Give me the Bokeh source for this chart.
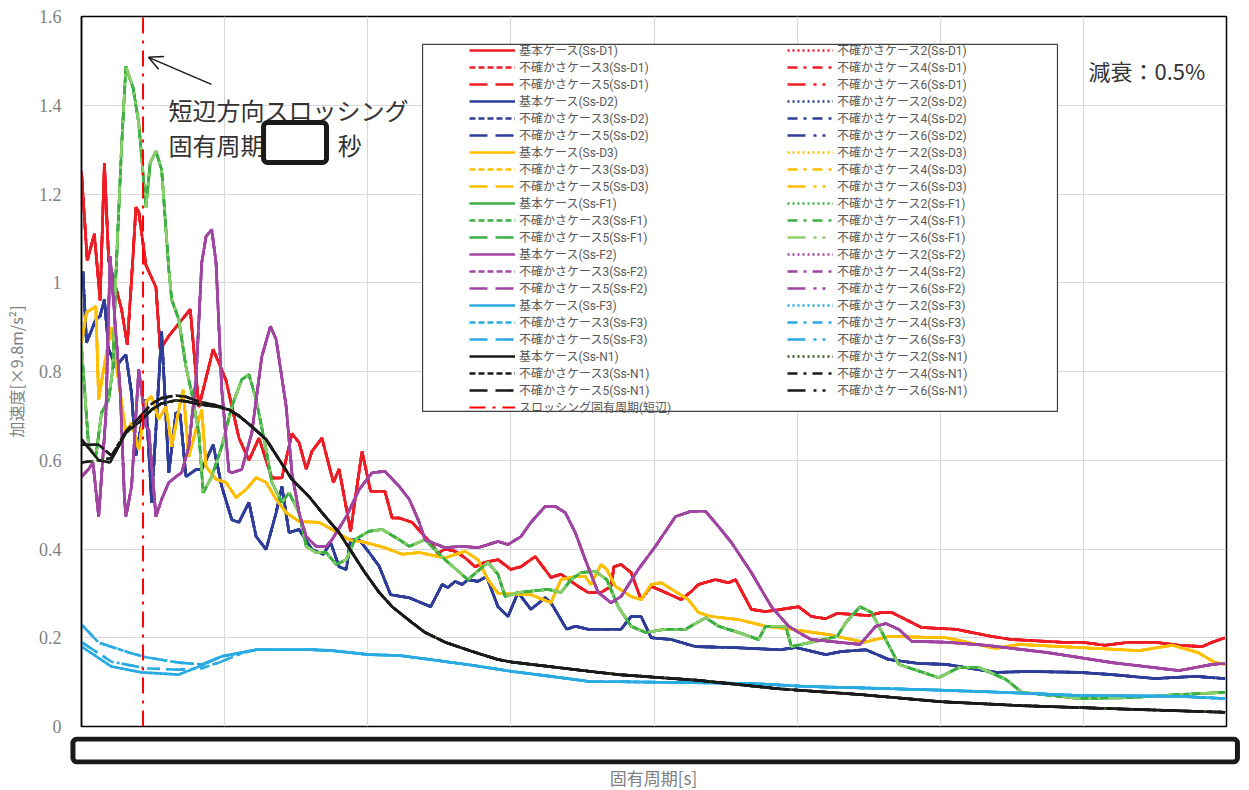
from bokeh.plotting import figure
from bokeh.models import (Range1d, FixedTicker, Legend, LegendItem, BoxAnnotation,
                          Label, Arrow, OpenHead)
from bokeh.embed import file_html
from bokeh.resources import INLINE

# ---------------- data (x: period in grid units, labels redacted; y: acceleration [x9.8 m/s2]) -------------
GROUPS = ["Ss-D1", "Ss-D2", "Ss-D3", "Ss-F1", "Ss-F2", "Ss-F3", "Ss-N1"]
CASES = ["基本ケース", "不確かさケース2", "不確かさケース3", "不確かさケース4",
         "不確かさケース5", "不確かさケース6"]

SS_D1 = [(0.00, 1.25), (0.04, 1.05), (0.09, 1.11), (0.13, 0.96), (0.16, 1.27), (0.19, 1.05), (0.28, 0.94),
         (0.32, 0.86), (0.36, 1.06), (0.38, 1.17), (0.40, 1.16), (0.45, 1.04), (0.52, 0.99), (0.55, 0.85),
         (0.61, 0.88), (0.76, 0.94), (0.82, 0.72), (0.92, 0.85), (1.01, 0.78), (1.10, 0.65), (1.17, 0.60),
         (1.24, 0.65), (1.33, 0.56), (1.40, 0.56), (1.47, 0.66), (1.52, 0.64), (1.57, 0.58), (1.61, 0.62),
         (1.68, 0.65), (1.76, 0.55), (1.80, 0.58), (1.88, 0.44), (1.96, 0.62), (2.02, 0.53), (2.08, 0.53),
         (2.12, 0.53), (2.17, 0.47), (2.22, 0.47), (2.31, 0.46), (2.45, 0.41), (2.49, 0.39), (2.54, 0.40),
         (2.61, 0.395), (2.68, 0.38), (2.75, 0.36), (2.82, 0.37), (2.91, 0.376), (3.00, 0.354), (3.07, 0.36),
         (3.17, 0.383), (3.28, 0.336), (3.35, 0.343), (3.47, 0.316), (3.54, 0.302), (3.63, 0.302),
         (3.70, 0.316), (3.72, 0.36), (3.77, 0.365), (3.84, 0.347), (3.91, 0.286), (3.98, 0.316),
         (4.08, 0.302), (4.19, 0.286), (4.26, 0.304), (4.31, 0.32), (4.43, 0.331), (4.52, 0.324),
         (4.57, 0.331), (4.68, 0.264), (4.78, 0.259), (4.89, 0.264), (5.01, 0.27), (5.10, 0.248),
         (5.20, 0.243), (5.28, 0.255), (5.50, 0.25), (5.59, 0.257), (5.66, 0.257), (5.76, 0.241),
         (5.87, 0.223), (6.11, 0.219), (6.36, 0.203), (6.50, 0.196), (6.85, 0.19), (6.99, 0.19),
         (7.15, 0.183), (7.32, 0.19), (7.50, 0.19), (7.67, 0.183), (7.83, 0.18), (7.90, 0.19), (7.99, 0.20)]

SS_D2 = [(0.00, 1.02), (0.01, 1.025), (0.035, 0.865), (0.10, 0.917), (0.13, 0.925), (0.16, 0.962),
         (0.19, 0.85), (0.24, 0.81), (0.28, 0.827), (0.31, 0.838), (0.35, 0.75), (0.38, 0.61), (0.45, 0.737),
         (0.49, 0.505), (0.56, 0.89), (0.61, 0.572), (0.66, 0.707), (0.69, 0.703), (0.73, 0.563),
         (0.80, 0.579), (0.84, 0.579), (0.92, 0.635), (0.98, 0.541), (1.05, 0.466), (1.10, 0.46),
         (1.17, 0.505), (1.22, 0.428), (1.29, 0.399), (1.36, 0.482), (1.40, 0.541), (1.45, 0.437),
         (1.52, 0.444), (1.61, 0.399), (1.69, 0.388), (1.74, 0.415), (1.80, 0.36), (1.85, 0.354),
         (1.88, 0.421), (1.94, 0.421), (2.01, 0.392), (2.08, 0.361), (2.16, 0.297), (2.29, 0.29),
         (2.44, 0.27), (2.52, 0.32), (2.56, 0.313), (2.61, 0.327), (2.66, 0.32), (2.70, 0.331),
         (2.77, 0.327), (2.83, 0.338), (2.91, 0.27), (2.98, 0.248), (3.05, 0.302), (3.14, 0.264),
         (3.24, 0.29), (3.28, 0.279), (3.39, 0.219), (3.45, 0.226), (3.54, 0.219), (3.77, 0.219),
         (3.84, 0.248), (3.91, 0.248), (3.98, 0.20), (4.12, 0.196), (4.29, 0.18), (4.54, 0.178),
         (4.88, 0.173), (4.99, 0.178), (5.20, 0.162), (5.31, 0.169), (5.48, 0.173), (5.64, 0.151),
         (5.85, 0.142), (6.04, 0.14), (6.39, 0.122), (6.62, 0.124), (6.97, 0.122), (7.20, 0.117),
         (7.50, 0.108), (7.78, 0.113), (7.99, 0.108)]

SS_D3 = [(0.00, 0.865), (0.035, 0.933), (0.10, 0.947), (0.12, 0.737), (0.17, 0.834), (0.21, 0.90),
         (0.245, 0.81), (0.31, 0.662), (0.35, 0.685), (0.40, 0.624), (0.45, 0.732), (0.49, 0.744),
         (0.54, 0.692), (0.59, 0.721), (0.63, 0.631), (0.68, 0.714), (0.71, 0.759), (0.75, 0.608),
         (0.80, 0.669), (0.84, 0.714), (0.87, 0.586), (0.94, 0.557), (1.01, 0.55), (1.08, 0.516),
         (1.15, 0.534), (1.22, 0.561), (1.29, 0.55), (1.36, 0.512), (1.43, 0.482), (1.52, 0.462),
         (1.66, 0.46), (1.75, 0.444), (1.87, 0.421), (1.98, 0.415), (2.12, 0.403), (2.24, 0.388),
         (2.36, 0.392), (2.54, 0.38), (2.68, 0.395), (2.77, 0.376), (2.84, 0.331), (2.91, 0.30),
         (3.14, 0.297), (3.28, 0.279), (3.35, 0.331), (3.45, 0.338), (3.52, 0.338), (3.56, 0.32),
         (3.63, 0.365), (3.67, 0.354), (3.73, 0.316), (3.84, 0.293), (3.91, 0.286), (3.98, 0.32),
         (4.05, 0.324), (4.15, 0.304), (4.24, 0.286), (4.31, 0.257), (4.40, 0.248), (4.59, 0.241),
         (4.78, 0.226), (4.96, 0.219), (5.22, 0.207), (5.47, 0.19), (5.64, 0.203), (6.04, 0.20),
         (6.39, 0.176), (6.55, 0.185), (6.97, 0.178), (7.39, 0.171), (7.62, 0.183), (7.80, 0.167),
         (7.92, 0.144), (7.99, 0.14)]

SS_F1 = [(0.00, 0.856), (0.05, 0.631), (0.10, 0.608), (0.14, 0.707), (0.19, 0.737), (0.22, 0.81),
         (0.24, 1.014), (0.28, 1.307), (0.31, 1.487), (0.34, 1.458), (0.36, 1.44), (0.40, 1.36),
         (0.45, 1.17), (0.48, 1.27), (0.52, 1.296), (0.56, 1.255), (0.61, 1.03), (0.63, 0.962),
         (0.68, 0.917), (0.73, 0.81), (0.77, 0.752), (0.82, 0.662), (0.85, 0.527), (0.91, 0.563),
         (0.98, 0.631), (1.05, 0.721), (1.12, 0.782), (1.17, 0.793), (1.22, 0.737), (1.29, 0.624),
         (1.33, 0.55), (1.40, 0.505), (1.45, 0.527), (1.52, 0.482), (1.57, 0.406), (1.64, 0.392),
         (1.71, 0.392), (1.78, 0.365), (1.85, 0.376), (1.91, 0.421), (2.01, 0.44), (2.10, 0.444),
         (2.22, 0.421), (2.29, 0.406), (2.40, 0.421), (2.54, 0.376), (2.70, 0.331), (2.84, 0.37),
         (2.91, 0.343), (2.96, 0.293), (3.05, 0.302), (3.26, 0.309), (3.35, 0.302), (3.42, 0.331),
         (3.49, 0.347), (3.59, 0.35), (3.67, 0.331), (3.75, 0.27), (3.84, 0.226), (3.94, 0.212),
         (4.08, 0.219), (4.22, 0.219), (4.36, 0.245), (4.45, 0.226), (4.59, 0.212), (4.73, 0.196),
         (4.78, 0.226), (4.92, 0.226), (4.96, 0.18), (5.10, 0.19), (5.28, 0.203), (5.34, 0.234),
         (5.44, 0.27), (5.52, 0.257), (5.71, 0.14), (5.99, 0.11), (6.13, 0.133), (6.27, 0.133),
         (6.46, 0.106), (6.57, 0.077), (6.97, 0.063), (7.32, 0.065), (7.67, 0.072), (7.99, 0.077)]

SS_F2 = [(0.00, 0.563), (0.05, 0.58), (0.08, 0.595), (0.12, 0.473), (0.17, 0.70), (0.20, 1.06),
         (0.24, 0.888), (0.27, 0.759), (0.30, 0.516), (0.31, 0.473), (0.35, 0.541), (0.40, 0.805),
         (0.45, 0.676), (0.47, 0.669), (0.52, 0.473), (0.56, 0.512), (0.61, 0.55), (0.66, 0.563),
         (0.70, 0.572), (0.75, 0.631), (0.80, 0.782), (0.84, 1.045), (0.87, 1.104), (0.91, 1.12),
         (0.94, 1.045), (0.98, 0.759), (1.03, 0.575), (1.05, 0.572), (1.12, 0.579), (1.19, 0.662),
         (1.26, 0.834), (1.32, 0.902), (1.36, 0.872), (1.43, 0.721), (1.47, 0.572), (1.52, 0.482),
         (1.57, 0.428), (1.64, 0.406), (1.71, 0.406), (1.75, 0.421), (1.85, 0.473), (1.94, 0.534),
         (2.03, 0.572), (2.12, 0.575), (2.22, 0.541), (2.29, 0.512), (2.36, 0.46), (2.40, 0.421),
         (2.54, 0.403), (2.66, 0.406), (2.77, 0.403), (2.91, 0.417), (2.98, 0.41), (3.07, 0.428),
         (3.14, 0.46), (3.24, 0.496), (3.31, 0.496), (3.38, 0.482), (3.45, 0.437), (3.52, 0.376),
         (3.61, 0.302), (3.70, 0.279), (3.77, 0.293), (3.89, 0.354), (4.01, 0.406), (4.15, 0.473),
         (4.26, 0.485), (4.36, 0.485), (4.45, 0.451), (4.54, 0.415), (4.68, 0.347), (4.82, 0.27),
         (4.94, 0.226), (5.01, 0.212), (5.10, 0.196), (5.44, 0.185), (5.55, 0.226), (5.62, 0.232),
         (5.71, 0.219), (5.80, 0.192), (6.04, 0.19), (6.32, 0.183), (6.74, 0.167), (7.20, 0.144),
         (7.67, 0.126), (7.90, 0.14), (7.99, 0.142)]

SS_F3 = [(0.00, 0.18), (0.21, 0.135), (0.42, 0.122), (0.68, 0.117), (0.82, 0.135), (0.98, 0.158),
         (1.22, 0.173), (1.61, 0.173), (1.75, 0.171), (2.01, 0.162), (2.22, 0.16), (2.46, 0.15),
         (2.73, 0.138), (3.01, 0.124), (3.28, 0.113), (3.56, 0.101), (3.75, 0.101), (4.22, 0.099),
         (4.68, 0.097), (5.07, 0.09), (5.57, 0.086), (5.99, 0.082), (6.27, 0.079), (6.97, 0.07),
         (7.67, 0.068), (7.99, 0.063)]
SS_F3_UPPER_HEAD = [(0.00, 0.23), (0.12, 0.189), (0.33, 0.167), (0.45, 0.156), (0.68, 0.144), (0.84, 0.14)]
SS_F3_MID_HEAD = [(0.00, 0.19), (0.21, 0.146), (0.45, 0.131), (0.68, 0.128), (0.84, 0.131), (0.96, 0.144),
                  (1.12, 0.165)]

SS_N1 = [(0.00, 0.647), (0.12, 0.60), (0.20, 0.595), (0.31, 0.662), (0.40, 0.685), (0.49, 0.714),
         (0.56, 0.728), (0.66, 0.735), (0.73, 0.733), (0.82, 0.726), (0.94, 0.721), (1.03, 0.714),
         (1.10, 0.70), (1.19, 0.676), (1.29, 0.647), (1.38, 0.602), (1.47, 0.557), (1.59, 0.518),
         (1.68, 0.482), (1.80, 0.437), (1.89, 0.392), (1.98, 0.347), (2.08, 0.302), (2.17, 0.27),
         (2.31, 0.234), (2.40, 0.212), (2.54, 0.19), (2.73, 0.169), (2.91, 0.151), (3.01, 0.145),
         (3.56, 0.124), (3.75, 0.117), (4.31, 0.104), (4.87, 0.085), (5.44, 0.072), (6.00, 0.056),
         (6.56, 0.047), (7.12, 0.041), (7.99, 0.032)]
SS_N1_LOW_HEAD = [(0.00, 0.595), (0.12, 0.60), (0.21, 0.605)]
SS_N1_HIGH_HEAD = [(0.00, 0.635), (0.12, 0.635), (0.21, 0.61), (0.31, 0.665), (0.40, 0.695), (0.49, 0.727),
                   (0.56, 0.74), (0.66, 0.746), (0.73, 0.743), (0.82, 0.732), (0.94, 0.724)]

SLOSH_X = [0.43, 0.43]
SLOSH_Y = [0.0, 1.6]

Y_TICKS = [0, 0.2, 0.4, 0.6, 0.8, 1.0, 1.2, 1.4, 1.6]
Y_TICK_LABELS = ["0", "0.2", "0.4", "0.6", "0.8", "1", "1.2", "1.4", "1.6"]
X_GRID = [0, 1, 2, 3, 4, 5, 6, 7, 8]


def with_head(head, base):
    last = head[-1][0]
    return head + [pt for pt in base if pt[0] > last]


BASE = {"Ss-D1": SS_D1, "Ss-D2": SS_D2, "Ss-D3": SS_D3, "Ss-F1": SS_F1,
        "Ss-F2": SS_F2, "Ss-F3": SS_F3, "Ss-N1": SS_N1}


def curve(group, case_idx):
    base = BASE[group]
    if group == "Ss-F3":
        if case_idx in (2, 4):
            return with_head(SS_F3_UPPER_HEAD, base)
        if case_idx in (3, 5):
            return with_head(SS_F3_MID_HEAD, base)
    if group == "Ss-N1":
        if case_idx in (1, 3):
            return with_head(SS_N1_LOW_HEAD, base)
        if case_idx in (2, 4):
            return with_head(SS_N1_HIGH_HEAD, base)
    return base


# ---------------- styles ----------------
COLORS = {"Ss-D1": "#ee1c24", "Ss-D2": "#2e3d98", "Ss-D3": "#ffbf00", "Ss-F1": "#3cb043",
          "Ss-F2": "#a045a2", "Ss-F3": "#29abe2", "Ss-N1": "#1a1a1a"}
DASHES = ["solid", "2 3", "6 3", "10 6 3 6", "18 8", "18 8 3 6 3 8"]
LW = 2.6
FONT = "Noto Sans CJK JP"
LEG_FONT = "Roboto, Noto Sans CJK JP"

p = figure(frame_width=1145, frame_height=710, min_border_left=75, min_border_right=13,
           min_border_top=16, min_border_bottom=10, output_backend="svg", toolbar_location=None,
           x_range=Range1d(0, 8), y_range=Range1d(0, 1.6), x_axis_location=None)
p.outline_line_color = "#000000"
p.outline_line_width = 1.5
p.background_fill_color = "white"
p.border_fill_color = "white"

p.xgrid.ticker = FixedTicker(ticks=X_GRID)
p.yaxis.ticker = FixedTicker(ticks=Y_TICKS)
p.yaxis.major_label_overrides = {t: l for t, l in zip(Y_TICKS, Y_TICK_LABELS)}
p.yaxis.axis_line_color = "#000000"
p.yaxis.axis_line_width = 1.5
p.yaxis.major_tick_line_color = None
p.yaxis.minor_tick_line_color = None
p.yaxis.major_label_text_font = "Liberation Serif"
p.yaxis.major_label_text_font_size = "18px"
p.yaxis.major_label_text_color = "#808080"
p.yaxis.major_label_standoff = 14
p.yaxis.axis_label = "加速度[×9.8m/s²]"
p.yaxis.axis_label_text_font = FONT
p.yaxis.axis_label_text_font_size = "16px"
p.yaxis.axis_label_text_font_style = "normal"
p.yaxis.axis_label_text_color = "#808080"
p.yaxis.axis_label_standoff = 8

p.xgrid.grid_line_color = "#d9d9d9"
p.ygrid.grid_line_color = "#d9d9d9"
p.xgrid.grid_line_width = 1.2
p.ygrid.grid_line_width = 1.2

left_items, right_items = [], []
for g in GROUPS:
    for ci, case in enumerate(CASES):
        pts = curve(g, ci)
        xs = [a for a, _ in pts]
        ys = [b for _, b in pts]
        color = COLORS[g]
        if g == "Ss-F1" and ci == 5:
            color = "#8ccf6a"
        if g == "Ss-N1" and ci == 1:
            color = "#385723"
        r = p.line(xs, ys, line_color=color, line_width=LW, line_dash=DASHES[ci])
        item = LegendItem(label=f"{case}({g})", renderers=[r])
        if ci in (0, 2, 4):
            left_items.append(item)
        else:
            right_items.append(item)

rs = p.line(SLOSH_X, SLOSH_Y, line_color="#ff0000", line_width=2, line_dash="16 7 3 7")
left_items.append(LegendItem(label="スロッシング固有周期(短辺)", renderers=[rs]))

# legend frame
p.add_layout(BoxAnnotation(left=2.383, right=6.819, top=1.537, bottom=0.710,
                           fill_color="white", fill_alpha=1.0, line_color="#404040",
                           line_alpha=1.0, line_width=1.2))

legend = Legend(items=left_items + right_items, nrows=22, location=(388, 311),
                glyph_width=46, glyph_height=16, label_height=16, label_width=268,
                label_standoff=4, spacing=0, padding=2, margin=0,
                label_text_font=LEG_FONT, label_text_font_size="12px", label_text_line_height=1.0,
                label_text_color="#595959", border_line_color=None, background_fill_alpha=0)
p.add_layout(legend)

# annotation text + arrow
p.add_layout(Arrow(end=OpenHead(size=14, line_width=1.5, line_color="#1a1a1a"),
                   x_start=0.908, y_start=1.447, x_end=0.468, y_end=1.508,
                   line_width=1.5, line_color="#1a1a1a"))
p.add_layout(Label(x=0.608, y=1.39, text="短辺方向スロッシング", text_font=FONT,
                   text_font_size="24px", text_color="#333333", text_baseline="middle"))
p.add_layout(Label(x=0.608, y=1.312, text="固有周期", text_font=FONT,
                   text_font_size="24px", text_color="#333333", text_baseline="middle"))
p.add_layout(BoxAnnotation(left=1.272, right=1.712, top=1.361, bottom=1.271, fill_color="white",
                           fill_alpha=1.0, line_color="#1a1a1a", line_alpha=1.0, line_width=5,
                           border_radius=4))
p.add_layout(Label(x=1.79, y=1.312, text="秒", text_font=FONT,
                   text_font_size="24px", text_color="#333333", text_baseline="middle"))
p.add_layout(Label(x=7.036, y=1.48, text="減衰：0.5%", text_font=FONT,
                   text_font_size="22px", text_color="#333333", text_baseline="middle"))

# ---- strip below the frame: redaction box over the period tick labels + x-axis title ----
p2 = figure(frame_width=1174, frame_height=28, min_border_left=66, min_border_right=0,
            min_border_top=0, min_border_bottom=20, output_backend="svg", toolbar_location=None,
            x_range=Range1d(0, 1), y_range=Range1d(0, 1), y_axis_location=None)
p2.outline_line_color = None
p2.grid.visible = False
p2.xaxis.ticker = FixedTicker(ticks=[])
p2.xaxis.axis_line_color = None
p2.xaxis.major_tick_line_color = None
p2.xaxis.minor_tick_line_color = None
p2.xaxis.axis_label = "固有周期[s]"
p2.xaxis.axis_label_text_font = FONT
p2.xaxis.axis_label_text_font_size = "17px"
p2.xaxis.axis_label_text_font_style = "normal"
p2.xaxis.axis_label_text_color = "#808080"
p2.xaxis.axis_label_standoff = 0
p2.add_layout(BoxAnnotation(left=0.0055, right=0.9974, top=0.911, bottom=0.089, fill_color="white",
                            fill_alpha=1.0, line_color="#1a1a1a", line_alpha=1.0, line_width=5,
                            border_radius=4))

open("out.html", "w").write(file_html([p, p2], INLINE))
